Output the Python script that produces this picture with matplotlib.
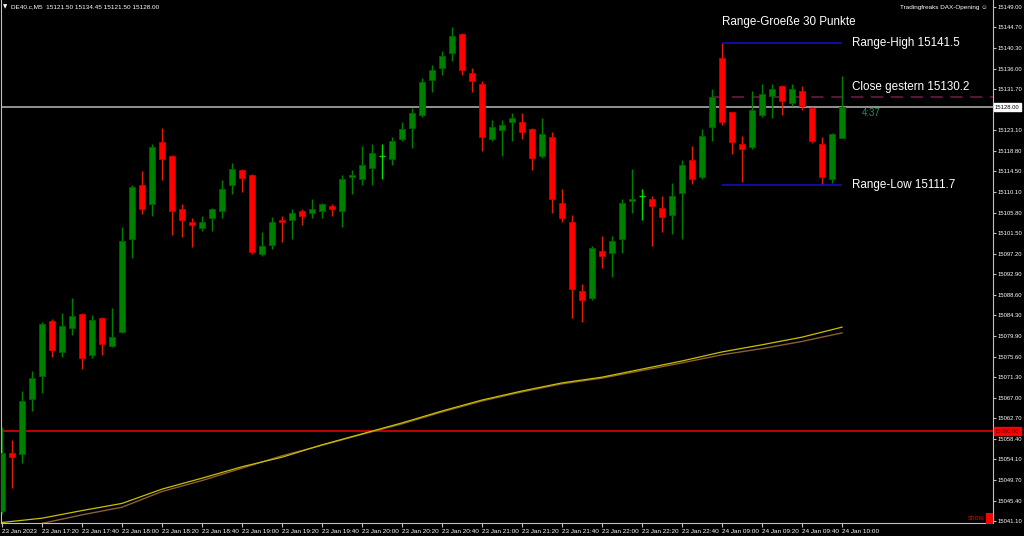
import matplotlib
matplotlib.use("Agg")
import matplotlib.pyplot as plt
import matplotlib.transforms as mtransforms
from matplotlib.patches import Rectangle
import numpy as np

# DE40 M5 candles, 23 Jan 17:00 .. 24 Jan 10:00
opens = [15043.3, 15055.3, 15055.1, 15066.8, 15071.6, 15083.0, 15076.6, 15081.7, 15084.6, 15075.9,
         15083.7, 15077.9, 15080.8, 15100.3, 15111.6, 15107.6, 15120.7, 15117.7, 15106.7, 15103.8,
         15102.7, 15104.7, 15106.2, 15111.7, 15114.8, 15113.7, 15097.2, 15099.1, 15104.3, 15104.2,
         15106.2, 15105.7, 15106.2, 15107.3, 15106.2, 15113.3, 15112.8, 15115.3, 15117.8, 15117.2,
         15121.3, 15123.7, 15126.3, 15133.7, 15136.3, 15139.3, 15143.3, 15135.2, 15132.8, 15121.3,
         15123.2, 15124.8, 15124.8, 15123.3, 15117.8, 15121.8, 15107.8, 15103.9, 15089.3, 15087.9,
         15097.8, 15097.3, 15100.4, 15108.3, 15109.4, 15108.8, 15106.9, 15105.3, 15109.9, 15116.9,
         15113.3, 15123.9, 15138.3, 15126.9, 15120.3, 15119.7, 15126.3, 15130.4, 15132.4, 15128.8,
         15131.3, 15127.8, 15120.3, 15112.8, 15121.5]
highs = [15060.9, 15058.1, 15068.5, 15072.5, 15082.8, 15083.5, 15084.8, 15087.9, 15084.8, 15084.3,
         15084.0, 15085.8, 15102.8, 15111.6, 15114.6, 15120.2, 15123.7, 15117.9, 15107.7, 15104.8,
         15105.2, 15106.9, 15112.7, 15116.3, 15115.1, 15113.9, 15101.8, 15104.9, 15105.2, 15106.7,
         15106.7, 15108.8, 15107.9, 15107.7, 15113.7, 15114.8, 15119.8, 15120.2, 15120.2, 15121.8,
         15124.8, 15127.7, 15134.2, 15136.8, 15139.8, 15144.7, 15143.5, 15136.3, 15133.4, 15125.3,
         15125.3, 15126.8, 15126.8, 15123.5, 15125.8, 15122.8, 15110.8, 15105.3, 15090.9, 15098.8,
         15100.9, 15100.9, 15108.8, 15114.9, 15110.9, 15109.4, 15109.4, 15112.0, 15116.9, 15119.9,
         15123.4, 15131.8, 15141.5, 15127.0, 15121.9, 15131.3, 15132.8, 15132.8, 15132.6, 15132.8,
         15132.4, 15128.0, 15121.8, 15122.5, 15134.45]
lows = [15042.5, 15048.0, 15053.2, 15064.3, 15068.0, 15075.5, 15075.5, 15080.1, 15073.0, 15075.4,
        15075.9, 15077.6, 15080.5, 15096.3, 15105.6, 15105.2, 15112.6, 15101.1, 15100.7, 15098.7,
        15102.0, 15102.0, 15104.8, 15109.7, 15110.2, 15097.2, 15096.7, 15098.1, 15099.7, 15100.2,
        15103.2, 15104.8, 15104.8, 15105.2, 15102.8, 15109.7, 15111.7, 15111.7, 15112.8, 15115.8,
        15120.8, 15119.3, 15126.0, 15131.2, 15134.7, 15137.7, 15134.7, 15131.2, 15118.8, 15120.8,
        15117.8, 15120.8, 15121.3, 15114.8, 15117.3, 15105.8, 15103.8, 15083.8, 15082.9, 15087.6,
        15094.3, 15092.3, 15097.3, 15105.8, 15104.3, 15098.9, 15101.8, 15101.4, 15100.4, 15111.8,
        15113.0, 15120.9, 15124.3, 15118.2, 15112.3, 15119.2, 15126.0, 15125.8, 15126.3, 15128.3,
        15127.3, 15120.4, 15111.7, 15112.1, 15121.5]
closes = [15055.3, 15054.5, 15066.4, 15071.1, 15082.5, 15077.0, 15082.1, 15084.1, 15075.4, 15083.2,
          15078.3, 15079.7, 15099.8, 15111.2, 15106.7, 15119.6, 15117.1, 15106.2, 15104.2, 15103.2,
          15103.8, 15106.7, 15110.7, 15115.1, 15113.2, 15097.6, 15098.8, 15103.8, 15103.8, 15105.8,
          15105.2, 15106.7, 15107.7, 15106.7, 15112.8, 15113.7, 15115.8, 15118.3, 15117.8, 15120.8,
          15123.3, 15126.8, 15133.3, 15135.8, 15138.8, 15142.9, 15135.7, 15133.4, 15121.8, 15123.8,
          15124.3, 15125.8, 15122.8, 15117.3, 15122.3, 15108.8, 15104.8, 15089.9, 15087.4, 15098.4,
          15096.8, 15099.8, 15107.8, 15108.8, 15109.4, 15107.3, 15104.9, 15109.4, 15115.8, 15112.9,
          15121.9, 15130.2, 15124.9, 15120.7, 15119.2, 15127.4, 15130.7, 15131.8, 15129.3, 15131.8,
          15128.3, 15120.8, 15113.3, 15122.3, 15128.0]

# moving averages, read every 4th bar
ma_idx = [0, 4, 8, 12, 16, 20, 24, 28, 32, 36, 40, 44, 48, 52, 56, 60, 64, 68, 72, 76, 80, 84]
ma_yellow = [15040.8, 15041.7, 15043.3, 15044.8, 15047.8, 15050.1, 15052.5, 15054.5, 15057.1, 15059.4,
             15061.7, 15064.2, 15066.5, 15068.4, 15070.1, 15071.3, 15073.0, 15074.7, 15076.6, 15078.1,
             15079.7, 15081.8]
ma_brown = [15038.5, 15040.6, 15042.4, 15044.0, 15047.3, 15049.6, 15052.2, 15054.8, 15057.0, 15059.3,
            15061.5, 15064.0, 15066.3, 15068.2, 15069.9, 15071.1, 15072.7, 15074.3, 15076.0, 15077.3,
            15078.8, 15080.6]

xtick_idx = [0, 4, 8, 12, 16, 20, 24, 28, 32, 36, 40, 44, 48, 52, 56, 60, 64, 68, 72, 76, 80, 84]
xtick_labels = ["23 Jan 2023", "23 Jan 17:20", "23 Jan 17:40", "23 Jan 18:00", "23 Jan 18:20",
                "23 Jan 18:40", "23 Jan 19:00", "23 Jan 19:20", "23 Jan 19:40", "23 Jan 20:00",
                "23 Jan 20:20", "23 Jan 20:40", "23 Jan 21:00", "23 Jan 21:20", "23 Jan 21:40",
                "23 Jan 22:00", "23 Jan 22:20", "23 Jan 22:40", "24 Jan 09:00", "24 Jan 09:20",
                "24 Jan 09:40", "24 Jan 10:00"]
yticks = [15149.00, 15144.70, 15140.30, 15136.00, 15131.70, 15127.40, 15123.10, 15118.80, 15114.50,
          15110.10, 15105.80, 15101.50, 15097.20, 15092.90, 15088.60, 15084.30, 15079.90, 15075.60,
          15071.30, 15067.00, 15062.70, 15058.40, 15054.10, 15049.70, 15045.40, 15041.10]

range_start, range_end = 72, 84
range_high = 15141.5
range_low = 15111.7
close_yesterday = 15130.2
current_price = 15128.00
level_line = 15060.00
timer_text = "4:37"
header = "DE40.c,M5  15121.50 15134.45 15121.50 15128.00"

small = ["Liberation Sans", "DejaVu Sans"]

fig = plt.figure(figsize=(10.24, 5.36), dpi=100, facecolor="black")
ax = fig.add_axes([1 / 1024, 13 / 536, 992 / 1024, 523 / 536], facecolor="black")
ax.set_xlim(-0.1, 99.1)
ax.set_ylim(15040.69, 15150.47)

x = np.arange(len(opens))
o = np.array(opens)
h = np.array(highs)
l = np.array(lows)
c = np.array(closes)
up = c > o + 0.1
down = c < o - 0.1
doji = ~(up | down)

# wicks
ax.vlines(x[up], l[up], h[up], colors="#008000", lw=1, zorder=3)
ax.vlines(x[down], l[down], h[down], colors="#e02000", lw=1, zorder=3)
ax.vlines(x[doji], l[doji], h[doji], colors="#00e000", lw=1, zorder=3)
# bodies
ax.bar(x[up], c[up] - o[up], bottom=o[up], width=0.66, color="#008000",
       edgecolor="#006000", lw=0.6, zorder=4)
ax.bar(x[down], o[down] - c[down], bottom=c[down], width=0.66, color="#ff0000",
       edgecolor="#d00000", lw=0.6, zorder=4)
ax.hlines(o[doji], x[doji] - 0.33, x[doji] + 0.33, colors="#00e000", lw=1, zorder=4)

# moving averages
ax.plot(ma_idx, ma_brown, color="#8a6030", lw=1, zorder=2)
ax.plot(ma_idx, ma_yellow, color="#c8c000", lw=0.9, zorder=2)

# horizontal levels
ax.axhline(current_price, color="#b8b8b8", lw=1.1, zorder=1)
ax.axhline(level_line, color="#d00000", lw=1.3, zorder=1)
ax.hlines(close_yesterday, range_start - 1, 99.1, colors="#7a1a4a", lw=1.1,
          linestyles=(0, (8, 5)), zorder=1)
ax.hlines([range_high, range_low], range_start, range_end, colors="#1010d0", lw=1.1, zorder=5)

tx = 85
lab = dict(color="white", fontsize=8.4, family=small, ha="left", va="center")
ax.text(range_start, range_high + 4.4, "Range-Groeße %d Punkte" % round(range_high - range_low), **lab)
ax.text(tx, range_high, "Range-High %.1f" % range_high, **lab)
ax.text(tx, close_yesterday + 2.0, "Close gestern %.1f" % close_yesterday, **lab)
ax.text(tx, range_low, "Range-Low %.1f" % range_low, **lab)
ax.text(tx + 1, current_price - 1.3, timer_text, color="#2e8b57", fontsize=7,
        family=small, ha="left", va="center")

# axes styling
for side in ["left", "right", "bottom"]:
    ax.spines[side].set_color("#c0c0c0")
    ax.spines[side].set_linewidth(0.8)
ax.spines["top"].set_visible(False)

ax.set_xticks(xtick_idx)
ax.set_xticklabels(xtick_labels, fontsize=4.6, family=small, color="white", ha="left")
ax.yaxis.tick_right()
ax.set_yticks(yticks)
ax.set_yticklabels(["%.2f" % v for v in yticks], fontsize=4.2, family=small, color="white")
ax.tick_params(axis="x", colors="#c0c0c0", length=3, pad=1.5, labelcolor="white")
ax.tick_params(axis="y", colors="#c0c0c0", length=2, pad=1, labelcolor="white")

trans = mtransforms.blended_transform_factory(ax.transAxes, ax.transData)
ax.text(1.002, current_price, "%.2f" % current_price, transform=trans, fontsize=4.2,
        family=small, color="black", ha="left", va="center", clip_on=False, zorder=10,
        bbox=dict(boxstyle="square,pad=0.2", fc="white", ec="white"))
ax.text(1.002, level_line, "%.2f" % level_line, transform=trans, fontsize=4.2,
        family=small, color="#600000", ha="left", va="center", clip_on=False, zorder=10,
        bbox=dict(boxstyle="square,pad=0.2", fc="#ff0000", ec="#ff0000"))

# header texts
fig.text(3 / 1024, 1 - 7 / 536, "▼", color="white", fontsize=4, family=["DejaVu Sans"],
         ha="left", va="center")
fig.text(11 / 1024, 1 - 7 / 536, header, color="white", fontsize=4.6, family=small,
         ha="left", va="center")
fig.text(988 / 1024, 1 - 7 / 536, "Tradingfreaks DAX-Opening ☺", color="white", fontsize=4.6,
         family=small, ha="right", va="center")
fig.text(984 / 1024, 1 - 518 / 536, "show", color="#e00000", fontsize=5, family=small,
         ha="right", va="center")
fig.patches.append(Rectangle((986 / 1024, 1 - 524 / 536), 7 / 1024, 11 / 536,
                             transform=fig.transFigure, fc="#ff0000", ec="none", zorder=10))

fig.savefig("out.png", dpi=100, facecolor="black")
